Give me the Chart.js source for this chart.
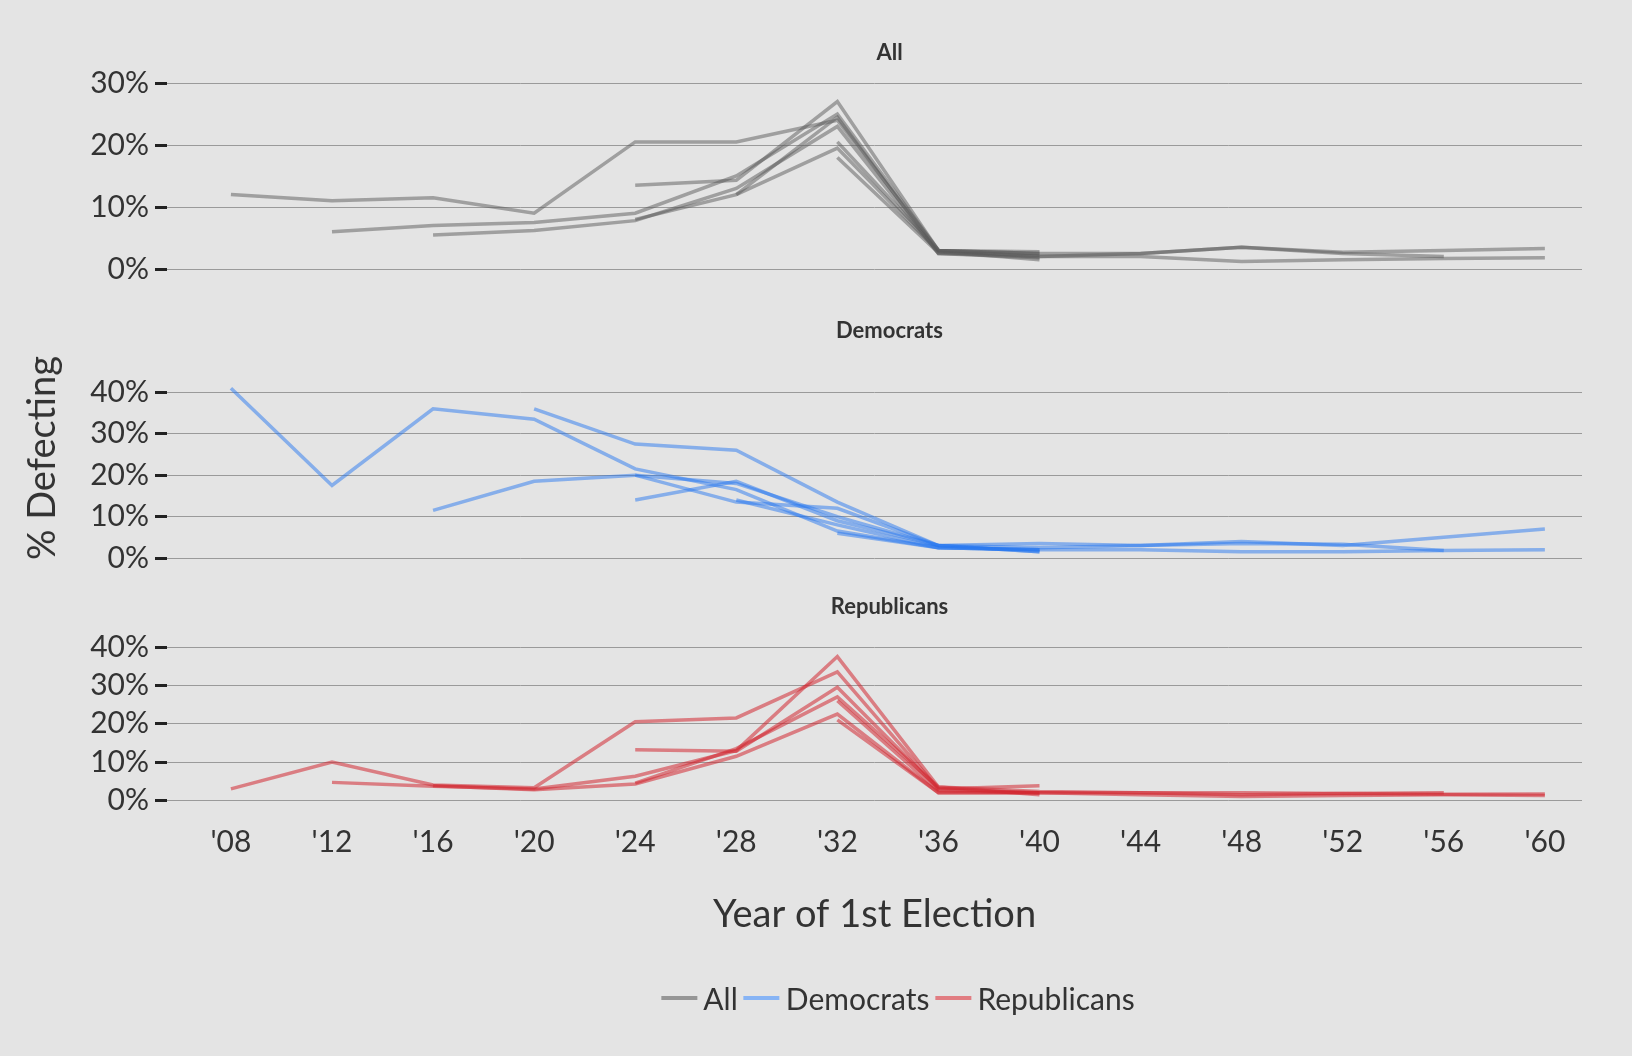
<!DOCTYPE html>
<html>
<head>
<meta charset="utf-8">
<script src="https://cdn.jsdelivr.net/npm/chart.js@4"></script>
<style>
  body { margin: 0; background: #e4e4e4; font-family: Lato, sans-serif; }
  #wrap { position: relative; width: 1632px; height: 1056px; overflow: hidden; }
  canvas { position: absolute; left: 0; }
  #ylab { position: absolute; left: 40px; top: 458px; transform: translate(-50%, -50%) rotate(-90deg);
          font-size: 38px; color: #333; white-space: nowrap; }
  #legend { position: absolute; left: 895px; top: 998px; transform: translate(-50%, -50%);
            display: flex; align-items: center; font-size: 30px; color: #333; white-space: nowrap; }
  #legend .sw { display: inline-block; width: 36px; height: 4px; margin: 0 6px 0 6px; }
</style>
</head>
<body>
<div id="wrap">
  <canvas id="all" style="top:0px"></canvas>
  <canvas id="dem" style="top:290px"></canvas>
  <canvas id="rep" style="top:555px"></canvas>
  <div id="ylab">% Defecting</div>
  <div id="legend"></div>
</div>
<script>
const years = [1908, 1912, 1916, 1920, 1924, 1928, 1932, 1936, 1940, 1944, 1948, 1952, 1956, 1960];
const _ = null;

// one row per cohort, % defecting at each election year
const allCohorts = [
	[12, 11, 11.5, 9, 20.5, 20.5, 24, 3, 2.5, 2.5, 3.5, 2.5, 2, _],
	[_, 6, 7, 7.5, 9, 15, 25, 3, 2, 2, 1.2, 1.5, 1.7, 1.8],
	[_, _, 5.5, 6.2, 7.8, 13, 23, 2.5, 2, 2.5, 3.5, 2.7, 3, 3.3],
	[_, _, _, _, 13.5, 14.3, 27, 3, 2.5, _, _, _, _, _],
	[_, _, _, _, 8, 12, 19.5, 2.8, 1.5, _, _, _, _, _],
	[_, _, _, _, _, 12, 24.5, 2.5, 1.8, _, _, _, _, _],
	[_, _, _, _, _, _, 18, 2.6, 2.2, _, _, _, _, _],
	[_, _, _, _, _, _, 20.5, 3, 2.8, _, _, _, _, _],
];
const demCohorts = [
	[41, 17.5, 36, 33.5, 21.5, 16.5, 6.5, 2.5, 2, 2, 1.5, 1.5, 1.8, 2],
	[_, _, 11.5, 18.5, 20, 13.5, 12, 3, 3.5, 3, 4, 3, 5, 7],
	[_, _, _, 36, 27.5, 26, 13.5, 3, 2.5, 3, 3.5, 3.3, 1.8, _],
	[_, _, _, _, 20, 18, 10, 3, 1.5, _, _, _, _, _],
	[_, _, _, _, 14, 18.5, 9, 3, 1.5, _, _, _, _, _],
	[_, _, _, _, _, 14, 8, 2.5, 2, _, _, _, _, _],
	[_, _, _, _, _, _, 6, 2.5, 2, _, _, _, _, _],
];
const repCohorts = [
	[3, 10, 4, 3.3, 20.5, 21.5, 33.5, 3, 2, 2, 2, 1.8, 2, _],
	[_, 4.7, 3.7, 3, 6.3, 13, 37.5, 3.5, 2.3, 2, 1.5, 1.8, 1.6, 1.7],
	[_, _, 3.8, 2.8, 4.3, 11.5, 22.5, 2, 2, 1.5, 1, 1.3, 1.5, 1.3],
	[_, _, _, _, 13.2, 12.8, 29.5, 3, 3.8, _, _, _, _, _],
	[_, _, _, _, 4.5, 13.5, 27, 3.5, 1.5, _, _, _, _, _],
	[_, _, _, _, _, _, 26, 2.5, 2, _, _, _, _, _],
	[_, _, _, _, _, _, 21, 2, 2, _, _, _, _, _],
];
const yTicksAll = [0, 10, 20, 30];
const yTicksParty = [0, 10, 20, 30, 40];
const legendNames = ["All", "Democrats", "Republicans"];

const colors = {
	all: "rgba(90, 90, 90, 0.5)",
	dem: "rgba(40, 120, 240, 0.5)",
	rep: "rgba(210, 40, 50, 0.55)",
};
const legendColors = ["rgb(150,150,150)", "rgb(135,180,245)", "rgb(225,125,130)"];

Chart.defaults.font.family = "Lato, sans-serif";
Chart.defaults.color = "#333";

const W = 1632;

// panel title centred over the plot area, not the whole canvas
const panelTitle = {
	id: "panelTitle",
	afterDraw(chart, args, opts) {
		const { ctx, chartArea } = chart;
		ctx.save();
		ctx.font = "bold 22px Lato, sans-serif";
		ctx.fillStyle = "#333";
		ctx.textAlign = "center";
		ctx.textBaseline = "middle";
		ctx.fillText(opts.text, (chartArea.left + chartArea.right) / 2 + 15, opts.y);
		ctx.restore();
	},
};

function makeDatasets(cohorts, color) {
	return cohorts.map((row) => ({
		data: years.map((x, i) => ({ x, y: row[i] })).filter((p) => p.y !== null),
		borderColor: color,
		borderWidth: 3.5,
		pointRadius: 0,
		fill: false,
		tension: 0,
	}));
}

function makePanel(id, height, title, titlePad, cohorts, color, yMax, yTicks, showX) {
	const canvas = document.getElementById(id);
	canvas.width = W;
	canvas.height = height;
	canvas.style.width = W + "px";
	canvas.style.height = height + "px";
	return new Chart(canvas, {
		type: "line",
		data: { datasets: makeDatasets(cohorts, color) },
		plugins: [panelTitle],
		options: {
			responsive: false,
			animation: false,
			devicePixelRatio: 1,
			layout: { padding: { left: 0, right: 50, bottom: showX ? 108 : 0 } },
			plugins: {
				panelTitle: { text: title, y: titlePad.top + 13 },
				title: {
					display: true,
					text: title,
					font: { size: 22, weight: "bold" },
					color: "rgba(0,0,0,0)",
					padding: titlePad,
				},
				legend: { display: false },
				tooltip: { enabled: false },
			},
			scales: {
				x: {
					type: "linear",
					min: 1905.47,
					max: 1961.47,
					display: showX,
					afterBuildTicks: (axis) => {
						axis.ticks = years.map((v) => ({ value: v }));
					},
					ticks: {
						autoSkip: false,
						maxRotation: 0,
						padding: 24,
						font: { size: 30 },
						color: "#333",
						callback: (value) => "'" + String(value).slice(2),
					},
					grid: { display: false, drawTicks: false },
					border: { display: false },
					title: {
						display: true,
						text: "Year of 1st Election",
						font: { size: 38 },
						color: "#333",
						padding: { top: 8, bottom: 10 },
					},
				},
				y: {
					min: 0,
					max: yMax,
					afterFit: (axis) => {
						axis.width = 167;
					},
					afterBuildTicks: (axis) => {
						axis.ticks = yTicks.map((v) => ({ value: v }));
					},
					ticks: {
						autoSkip: false,
						padding: 6,
						font: { size: 30 },
						color: "#333",
						callback: (value) => `${value}%`,
					},
					grid: {
						color: "#9a9a9a",
						lineWidth: 1,
						tickLength: 12,
						tickColor: "#222",
						tickWidth: 3,
					},
					border: { display: false },
				},
			},
		},
	});
}

makePanel("all", 293, "All", { top: 40, bottom: 16.6 }, allCohorts, colors.all, 30, yTicksAll, false);
makePanel("dem", 292, "Democrats", { top: 28, bottom: 39.6 }, demCohorts, colors.dem, 42, yTicksParty, false);
makePanel("rep", 501, "Republicans", { top: 39, bottom: 26.6 }, repCohorts, colors.rep, 40, yTicksParty, true);

const legend = document.getElementById("legend");
legendNames.forEach((n, i) => {
	const sw = document.createElement("span");
	sw.className = "sw";
	sw.style.background = legendColors[i];
	const t = document.createElement("span");
	t.textContent = n;
	legend.appendChild(sw);
	legend.appendChild(t);
});
</script>
</body>
</html>
